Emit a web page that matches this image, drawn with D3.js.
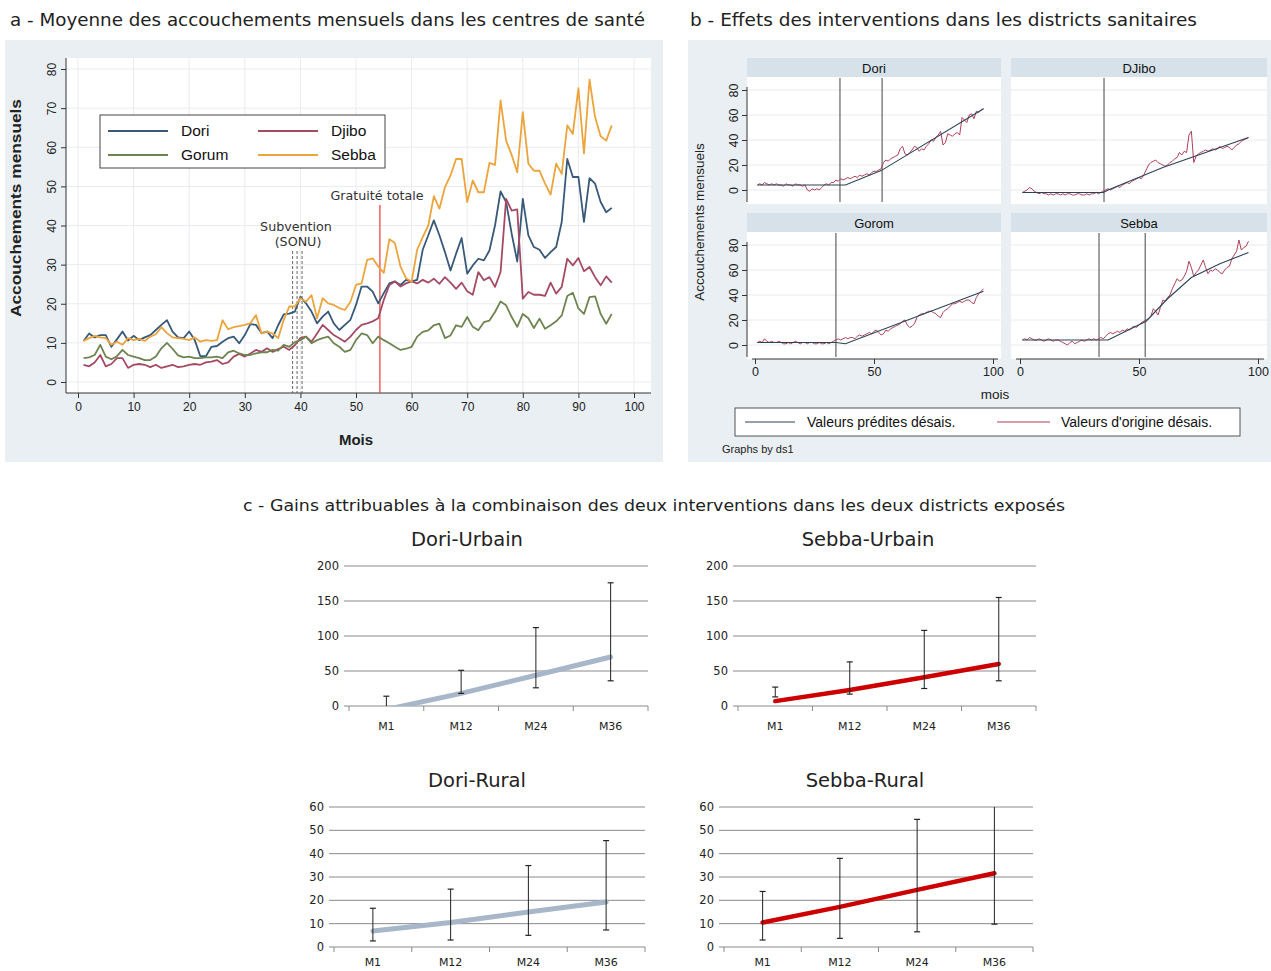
<!DOCTYPE html>
<html>
<head>
<meta charset="utf-8">
<script src="https://cdn.jsdelivr.net/npm/d3@7"></script>
<style>
  body { margin: 0; background: #fff; }
  svg { display: block; }
</style>
</head>
<body>
<div id="chart"></div>
<script>
// ---------- Panel a : mean monthly deliveries (months 1..96) ----------
const doriA = [
  10.5, 12.4, 11.4, 12, 12, 9, 10.9, 12.9, 10.6, 11.8,
  10.7, 11.4, 12, 13.3, 14.6, 15.8, 12.9, 11.4, 11.2, 12.9,
  10.7, 6.6, 6.6, 9, 9.2, 10.3, 11.2, 11.6, 9.9, 12,
  14.8, 14.6, 12.5, 12.9, 11.2, 14.5, 17.3, 17.5, 18, 21.8,
  20.1, 18, 15, 16.7, 18, 15, 13.3, 14.6, 15.9, 19.7,
  24.4, 24.4, 23.1, 20.1, 22.7, 25.2, 25.7, 24.8, 26.1, 25.7,
  26.1, 33.8, 37.5, 41.3, 37.5, 33.2, 28.5, 32.8, 36.8, 27.7,
  29.8, 31.5, 31.1, 33.6, 40, 48.7, 46, 37.9, 30.8, 46.8,
  37.5, 34.5, 33.8, 31.7, 33.2, 34.5, 40.9, 57, 52.4, 52.4,
  40.9, 52.1, 50.7, 46, 43.4, 44.5
];
const djiboA = [
  4.4, 4, 5, 6.9, 4, 4.6, 6.1, 6.1, 3.6, 4.4,
  4.6, 4.4, 3.8, 4.4, 3.6, 4, 4.4, 3.8, 4, 4.4,
  4.6, 4.4, 5, 5.2, 5.6, 4.6, 5, 6.5, 7.2, 6.5,
  7.3, 8.2, 7.7, 8.6, 7.7, 8.4, 9, 8.2, 9.4, 11.2,
  11.6, 10.3, 12.4, 14.6, 13.3, 12, 11.2, 10.3, 11.6, 13.3,
  14.6, 15, 15.5, 16.3, 21, 24.8, 25.7, 24.4, 25.2, 25.7,
  25.2, 26.1, 25.4, 26.4, 25.1, 26.8, 25.4, 23.8, 25.4, 23.2,
  22.3, 28.1, 26, 26.8, 24.3, 28.1, 46.8, 43.8, 44.1, 21.3,
  23, 22.3, 22.3, 22, 25.4, 22.6, 24.3, 31.5, 29.8, 31.7,
  28.3, 29.4, 26.8, 24.7, 27, 25.4
];
const gorumA = [
  6.1, 6.3, 6.9, 9.5, 6.5, 5.8, 6.6, 8.2, 6.9, 6.5,
  6.1, 5.6, 5.6, 6.5, 8.6, 10, 8.5, 6.8, 6.3, 6.5,
  6.1, 6.1, 6.3, 6.3, 6.5, 6.1, 7.6, 8, 7.3, 6.9,
  6.9, 7.3, 7.6, 7.6, 8.2, 8, 9.5, 9, 10.2, 10.7,
  11.6, 9.9, 10.7, 11.2, 11.6, 9.9, 9, 7.7, 8.2, 10.7,
  12.4, 12, 9.9, 11.6, 10.7, 9.9, 9, 8.2, 8.5, 9,
  11.6, 12.8, 13.2, 14.5, 14.9, 11.2, 11.9, 14.5, 14.1, 16.6,
  14.1, 13.2, 15.3, 15.7, 17.9, 20.6, 19.6, 16.6, 14.1, 17.4,
  16.3, 13.8, 16.2, 13.6, 14.5, 15.5, 17, 22, 22.8, 18.8,
  17.4, 21.7, 21.9, 17.4, 14.9, 17.4
];
const sebbaA = [
  10.5, 11.2, 11.8, 11.4, 11.2, 9.5, 10.3, 9.5, 11.2, 10.7,
  11, 10.5, 11.6, 12.2, 14, 12.5, 11.4, 11.2, 11, 10.7,
  11.4, 10.3, 10.7, 10.5, 10.7, 15.8, 13.5, 14, 14.3, 14.6,
  15, 17.1, 12.4, 12.9, 12.4, 11.2, 15.9, 19.3, 19.3, 21.4,
  20.5, 22.2, 16.3, 21.4, 20.1, 19.7, 18.9, 18.4, 20.5, 24.8,
  25.2, 31.2, 31.6, 29.5, 27.9, 36.5, 35.5, 29.5, 26.5, 25.6,
  33.8, 37, 40, 47.5, 44.3, 49.8, 52.8, 57, 57, 46,
  51.5, 48.5, 48.5, 56, 55.5, 72, 61.7, 58, 53.6, 69,
  55.8, 54, 54, 50.7, 47.9, 55.8, 53.2, 65.6, 63.4, 75.1,
  58.4, 77.3, 67.7, 62.8, 61.7, 65.6
];
const seriesA = [
  { name: "Dori", values: doriA, color: "#38597a" },
  { name: "Djibo", values: djiboA, color: "#a54a63" },
  { name: "Gorum", values: gorumA, color: "#6e8450" },
  { name: "Sebba", values: sebbaA, color: "#eca43c" }
];
const monthTicks = [0, 10, 20, 30, 40, 50, 60, 70, 80, 90, 100];
const countTicks = [0, 10, 20, 30, 40, 50, 60, 70, 80];
const sonuMonths = [38.6, 39.4, 40.3];
const gratuiteMonth = 54.3;

// ---------- Panel b : deseasonalised original vs predicted ----------
const bDori = [
  4, 5, 4, 6, 5, 4, 5, 4, 5, 4,
  4, 3, 5, 4, 4, 3, 5, 4, 4, 3,
  4, 0, -1, 1, 0, 1, 0, 2, 4, 5,
  4, 6, 6, 8, 7, 9, 8, 9, 10, 9,
  10, 11, 10, 12, 11, 12, 13, 12, 14, 15,
  15, 16, 17, 22, 24, 23, 25, 26, 27, 28,
  33, 35, 29, 28, 30, 32, 35, 34, 31, 33,
  32, 35, 37, 40, 39, 42, 44, 47, 36, 38,
  45, 44, 43, 45, 46, 44, 58, 56, 54, 60,
  61, 57, 63, 62, 64, 65
];
const bDjibo = [
  -2, -1, 0, 2, 1, -1, -2, -3, -2, -3,
  -3, -4, -3, -4, -3, -3, -4, -3, -4, -3,
  -3, -4, -4, -3, -3, -4, -4, -3, -4, -3,
  -3, -2, -3, -2, -1, 0, 1, 0, 1, 2,
  3, 2, 4, 5, 6, 5, 7, 8, 9, 10,
  9, 12, 16, 20, 22, 23, 24, 22, 21, 20,
  19, 20, 22, 23, 25, 26, 30, 28, 31, 30,
  44, 47, 22, 27, 29, 30, 31, 32, 31, 32,
  33, 32, 33, 35, 33, 34, 35, 34, 32, 34,
  36, 37, 39, 40, 41, 42
];
const bGorom = [
  2, 3, 2, 5, 3, 2, 3, 2, 2, 3,
  2, 1, 1, 2, 1, 2, 3, 2, 1, 2,
  2, 1, 2, 2, 1, 1, 2, 1, 1, 2,
  1, 2, 3, 4, 5, 4, 5, 6, 5, 6,
  6, 5, 7, 8, 7, 8, 9, 10, 9, 11,
  12, 10, 8, 9, 12, 11, 13, 14, 15, 16,
  17, 19, 20, 16, 14, 15, 17, 22, 24, 25,
  25, 26, 27, 27, 26, 25, 23, 22, 26, 28,
  29, 31, 33, 33, 34, 35, 34, 35, 36, 36,
  34, 33, 38, 41, 43, 45
];
const bSebba = [
  4, 5, 4, 6, 5, 4, 4, 5, 4, 3,
  4, 5, 4, 3, 4, 4, 3, 2, 1, 0,
  2, 3, 1, 2, 3, 4, 3, 4, 5, 4,
  5, 4, 5, 6, 5, 7, 9, 10, 9, 10,
  11, 10, 12, 11, 13, 12, 14, 15, 14, 16,
  18, 19, 20, 21, 23, 29, 27, 24, 30, 36,
  35, 38, 40, 45, 49, 53, 51, 52, 55, 59,
  67, 62, 55, 58, 60, 64, 68, 62, 57, 60,
  59, 61, 60, 58, 57, 60, 62, 63, 69, 72,
  75, 84, 76, 78, 79, 83
];
// predicted (piecewise) : [month, value]
const bDoriPred = [[1, 4], [38, 4], [53, 15.5], [96, 65]];
const bDjiboPred = [[1, -2], [35, -2], [37, 0], [60, 18], [96, 42]];
const bGoromPred = [[1, 2], [34, 2], [38, 1], [96, 43]];
const bSebbaPred = [[1, 4], [37, 4], [53, 19], [62, 37], [72, 54], [84, 65], [96, 74]];
const bYTicks = [0, 20, 40, 60, 80];
const bXTicks = [0, 50, 100];

// ---------- Panel c : gains ----------
const cats = ["M1", "M12", "M24", "M36"];
const urbainTicks = [0, 50, 100, 150, 200];
const ruralTicks = [0, 10, 20, 30, 40, 50, 60];
const doriUrbain = [-5, 18, 44, 70];
const doriUrbainLo = [-20, 18, 26, 36];
const doriUrbainHi = [14, 51, 112, 176];
const sebbaUrbain = [7, 23, 41, 60];
const sebbaUrbainLo = [13, 17, 25, 36];
const sebbaUrbainHi = [27, 63, 108, 155];
const doriRural = [6.9, 10.5, 15, 19.3];
const doriRuralLo = [2.6, 3, 5, 7.3];
const doriRuralHi = [16.6, 24.8, 34.9, 45.6];
const sebbaRural = [10.5, 17.2, 24.5, 31.6];
const sebbaRuralLo = [3, 3.7, 6.5, 9.8];
const sebbaRuralHi = [23.8, 38, 54.7, 63];

const svg = d3.select("#chart").append("svg")
  .attr("width", 1271)
  .attr("height", 971);

const verdana = "DejaVu Sans, Verdana, sans-serif";
const arial = "Liberation Sans, Arial, sans-serif";

// ================= Panel a =================
svg.append("text").attr("x", 10).attr("y", 26)
  .attr("font-family", verdana).attr("font-size", 17.5).attr("fill", "#222")
  .attr("textLength", 635).attr("lengthAdjust", "spacingAndGlyphs")
  .text("a - Moyenne des accouchements mensuels dans les centres de santé");

svg.append("rect").attr("x", 5).attr("y", 40).attr("width", 658).attr("height", 422).attr("fill", "#e9eff3");

const pa = { left: 66, right: 651, top: 58, bottom: 393 };
svg.append("rect").attr("x", pa.left).attr("y", pa.top)
  .attr("width", pa.right - pa.left).attr("height", pa.bottom - pa.top).attr("fill", "#fff");

const xa = d3.scaleLinear().domain([0, 100]).range([78, 634]);
const ya = d3.scaleLinear().domain([0, 80]).range([382, 69]);

const gridA = svg.append("g").attr("stroke", "#e9ecef").attr("stroke-width", 1);
gridA.selectAll(".v").data(monthTicks).join("line")
  .attr("x1", d => xa(d)).attr("x2", d => xa(d)).attr("y1", pa.top).attr("y2", pa.bottom);
gridA.selectAll(".h").data(countTicks).join("line")
  .attr("x1", pa.left).attr("x2", pa.right).attr("y1", d => ya(d)).attr("y2", d => ya(d));

// axes
const axA = svg.append("g").attr("transform", `translate(0,${pa.bottom})`)
  .call(d3.axisBottom(xa).tickValues(monthTicks).tickSize(5).tickPadding(4));
axA.select(".domain").remove();
axA.selectAll("line").attr("stroke", "#333");
axA.selectAll("text").attr("font-family", arial).attr("font-size", 12).attr("fill", "#222");
svg.append("line").attr("x1", pa.left).attr("x2", pa.right).attr("y1", pa.bottom).attr("y2", pa.bottom).attr("stroke", "#333");

const ayA = svg.append("g").attr("transform", `translate(${pa.left},0)`)
  .call(d3.axisLeft(ya).tickValues(countTicks).tickSize(5));
ayA.select(".domain").remove();
ayA.selectAll("line").attr("stroke", "#333");
ayA.selectAll("text").attr("font-family", arial).attr("font-size", 12).attr("fill", "#222")
  .attr("transform", "rotate(-90)").attr("x", 0).attr("y", -10).attr("dy", 0).attr("text-anchor", "middle");
svg.append("line").attr("x1", pa.left).attr("x2", pa.left).attr("y1", pa.top).attr("y2", pa.bottom).attr("stroke", "#333");

svg.append("text").attr("transform", "translate(21,208) rotate(-90)").attr("text-anchor", "middle")
  .attr("font-family", arial).attr("font-size", 15).attr("font-weight", 600).attr("fill", "#222")
  .attr("textLength", 218).attr("lengthAdjust", "spacingAndGlyphs")
  .text("Accouchements mensuels");
svg.append("text").attr("x", 356).attr("y", 445).attr("text-anchor", "middle")
  .attr("font-family", arial).attr("font-size", 15).attr("font-weight", 600).attr("fill", "#222").text("Mois");

// intervention markers
svg.append("g").selectAll("line").data(sonuMonths).join("line")
  .attr("x1", d => xa(d)).attr("x2", d => xa(d)).attr("y1", 251).attr("y2", pa.bottom)
  .attr("stroke", "#555").attr("stroke-width", 0.9).attr("stroke-dasharray", "3,2");
svg.append("line").attr("x1", xa(gratuiteMonth)).attr("x2", xa(gratuiteMonth))
  .attr("y1", 205).attr("y2", pa.bottom).attr("stroke", "#f0484a").attr("stroke-width", 1.3);

svg.append("text").attr("x", 296).attr("y", 231).attr("text-anchor", "middle")
  .attr("font-family", verdana).attr("font-size", 12.7).attr("fill", "#333").text("Subvention");
svg.append("text").attr("x", 298).attr("y", 246).attr("text-anchor", "middle")
  .attr("font-family", verdana).attr("font-size", 12.7).attr("fill", "#333").text("(SONU)");
svg.append("text").attr("x", 377).attr("y", 200).attr("text-anchor", "middle")
  .attr("font-family", verdana).attr("font-size", 12.7).attr("fill", "#333").text("Gratuité totale");

const lineA = d3.line().x((d, i) => xa(i + 1)).y(d => ya(d));
svg.append("g").selectAll("path").data(seriesA).join("path")
  .attr("d", d => lineA(d.values)).attr("fill", "none")
  .attr("stroke", d => d.color).attr("stroke-width", 1.8).attr("stroke-linejoin", "round");

// legend
const legA = svg.append("g");
legA.append("rect").attr("x", 100).attr("y", 115).attr("width", 285).attr("height", 53)
  .attr("fill", "#fff").attr("stroke", "#444").attr("stroke-width", 1);
const legPos = [[108, 131], [258, 131], [108, 155], [258, 155]];
const legOrder = ["Dori", "Djibo", "Gorum", "Sebba"];
legOrder.forEach((n, i) => {
  const s = seriesA.find(d => d.name === n);
  const [lx, ly] = legPos[i];
  legA.append("line").attr("x1", lx).attr("x2", lx + 60).attr("y1", ly).attr("y2", ly)
    .attr("stroke", s.color).attr("stroke-width", 1.8);
  legA.append("text").attr("x", lx + 73).attr("y", ly + 5)
    .attr("font-family", arial).attr("font-size", 15.5).attr("fill", "#111").text(n);
});

// ================= Panel b =================
svg.append("text").attr("x", 690).attr("y", 26)
  .attr("font-family", verdana).attr("font-size", 17).attr("fill", "#222")
  .attr("textLength", 507).attr("lengthAdjust", "spacingAndGlyphs")
  .text("b -  Effets des interventions dans les districts sanitaires");
svg.append("rect").attr("x", 688).attr("y", 40).attr("width", 583).attr("height", 422).attr("fill", "#e9eff3");

const xbL = d3.scaleLinear().domain([0, 100]).range([755, 993]);
const xbR = d3.scaleLinear().domain([0, 100]).range([1020, 1258]);
const ybT = d3.scaleLinear().domain([0, 80]).range([190, 90]);
const ybB = d3.scaleLinear().domain([0, 80]).range([345, 245]);

const facets = [
  { name: "Dori", orig: bDori, pred: bDoriPred, cuts: [35.7, 53.4], x: xbL, y: ybT, col: 0, row: 0 },
  { name: "DJibo", orig: bDjibo, pred: bDjiboPred, cuts: [35.3], x: xbR, y: ybT, col: 1, row: 0 },
  { name: "Gorom", orig: bGorom, pred: bGoromPred, cuts: [34], x: xbL, y: ybB, col: 0, row: 1 },
  { name: "Sebba", orig: bSebba, pred: bSebbaPred, cuts: [33.2, 52.6], x: xbR, y: ybB, col: 1, row: 1 }
];
const colX = [[747, 1001], [1011, 1267]];
const rowY = [[58, 77, 204], [213, 232, 359]];

facets.forEach(f => {
  const [x0, x1] = colX[f.col];
  const [h0, p0, p1] = rowY[f.row];
  const g = svg.append("g");
  g.append("rect").attr("x", x0).attr("y", h0).attr("width", x1 - x0).attr("height", p0 - h0).attr("fill", "#d6e1e9");
  g.append("text").attr("x", (x0 + x1) / 2).attr("y", h0 + 14.5).attr("text-anchor", "middle")
    .attr("font-family", arial).attr("font-size", 13).attr("fill", "#111").text(f.name);
  g.append("rect").attr("x", x0).attr("y", p0).attr("width", x1 - x0).attr("height", p1 - p0).attr("fill", "#fff");
  g.selectAll(".grid").data(bYTicks).join("line")
    .attr("x1", x0).attr("x2", x1).attr("y1", d => f.y(d)).attr("y2", d => f.y(d))
    .attr("stroke", "#e6eaee").attr("stroke-width", 1);
  g.selectAll(".cut").data(f.cuts).join("line")
    .attr("x1", d => f.x(d)).attr("x2", d => f.x(d)).attr("y1", p0 + 1).attr("y2", p1 - 2)
    .attr("stroke", "#555").attr("stroke-width", 1.1);
  const lo = d3.line().x((d, i) => f.x(i + 1)).y(d => f.y(d));
  g.append("path").attr("d", lo(f.orig)).attr("fill", "none")
    .attr("stroke", "#b04058").attr("stroke-width", 1).attr("stroke-linejoin", "round");
  const lp = d3.line().x(d => f.x(d[0])).y(d => f.y(d[1]));
  g.append("path").attr("d", lp(f.pred)).attr("fill", "none")
    .attr("stroke", "#2c4257").attr("stroke-width", 1.1);

  if (f.col === 0) {
    const ay = g.append("g").attr("transform", `translate(${x0},0)`)
      .call(d3.axisLeft(f.y).tickValues(bYTicks).tickSize(5));
    ay.select(".domain").attr("d", `M0,${p0 + 10}V${p1 - 2}`).attr("stroke", "#333");
    ay.selectAll("line").attr("stroke", "#333");
    ay.selectAll("text").attr("font-family", arial).attr("font-size", 12.5).attr("fill", "#222")
      .attr("transform", "rotate(-90)").attr("x", 0).attr("y", -9).attr("dy", 0).attr("text-anchor", "middle");
  }
  if (f.row === 1) {
    const ax = g.append("g").attr("transform", `translate(0,${p1})`)
      .call(d3.axisBottom(f.x).tickValues(bXTicks).tickSize(5).tickPadding(3));
    ax.select(".domain").attr("d", `M${x0 + 5},0H${x1 - 3}`).attr("stroke", "#333");
    ax.selectAll("line").attr("stroke", "#333");
    ax.selectAll("text").attr("font-family", arial).attr("font-size", 12.5).attr("fill", "#222");
  }
});

svg.append("text").attr("transform", "translate(704,222) rotate(-90)").attr("text-anchor", "middle")
  .attr("font-family", arial).attr("font-size", 13.5).attr("fill", "#222").text("Accouchements mensuels");
svg.append("text").attr("x", 995).attr("y", 399).attr("text-anchor", "middle")
  .attr("font-family", arial).attr("font-size", 13.5).attr("fill", "#222").text("mois");

const legB = svg.append("g");
legB.append("rect").attr("x", 735).attr("y", 408).attr("width", 505).attr("height", 28)
  .attr("fill", "#fff").attr("stroke", "#555").attr("stroke-width", 1);
legB.append("line").attr("x1", 745).attr("x2", 795).attr("y1", 422).attr("y2", 422).attr("stroke", "#2c4257").attr("stroke-width", 1.2);
legB.append("text").attr("x", 807).attr("y", 427).attr("font-family", arial).attr("font-size", 14).attr("fill", "#111")
  .text("Valeurs prédites désais.");
legB.append("line").attr("x1", 997).attr("x2", 1050).attr("y1", 422).attr("y2", 422).attr("stroke", "#b04058").attr("stroke-width", 1.2);
legB.append("text").attr("x", 1061).attr("y", 427).attr("font-family", arial).attr("font-size", 14).attr("fill", "#111")
  .text("Valeurs d'origine désais.");
svg.append("text").attr("x", 722).attr("y", 453).attr("font-family", arial).attr("font-size", 11).attr("fill", "#222")
  .text("Graphs by ds1");

// ================= Panel c =================
svg.append("text").attr("x", 243).attr("y", 511)
  .attr("font-family", verdana).attr("font-size", 16).attr("fill", "#222")
  .attr("textLength", 822).attr("lengthAdjust", "spacingAndGlyphs")
  .text("c - Gains attribuables à la combinaison des deux interventions dans les deux districts exposés");

function excelChart(o, idx) {
  const x = d3.scaleBand().domain(cats).range([o.left, o.right]);
  const y = d3.scaleLinear().domain([0, o.ticks[o.ticks.length - 1]]).range([o.bottom, o.top]);
  const g = svg.append("g");
  g.append("text").attr("x", o.tx).attr("y", o.top - 20).attr("text-anchor", "middle")
    .attr("font-family", verdana).attr("font-size", 19.5).attr("fill", "#222").text(o.title);
  g.selectAll(".gl").data(o.ticks).join("line")
    .attr("x1", o.left - 5).attr("x2", o.right).attr("y1", d => y(d)).attr("y2", d => y(d))
    .attr("stroke", "#8a8a8a").attr("stroke-width", 1);
  g.selectAll(".yl").data(o.ticks).join("text")
    .attr("x", o.left - 10).attr("y", d => y(d) + 4).attr("text-anchor", "end")
    .attr("font-family", verdana).attr("font-size", 11.5).attr("fill", "#222").text(d => d);
  const bounds = cats.map(c => x(c)).concat([o.right]);
  g.selectAll(".xt").data(bounds).join("line")
    .attr("x1", d => d).attr("x2", d => d).attr("y1", o.bottom).attr("y2", o.bottom + 5)
    .attr("stroke", "#8a8a8a");
  g.selectAll(".xl").data(cats).join("text")
    .attr("x", d => x(d) + x.bandwidth() / 2).attr("y", o.bottom + o.labelGap).attr("text-anchor", "middle")
    .attr("font-family", verdana).attr("font-size", 11).attr("fill", "#222").text(d => d);

  const clipId = "clipc" + idx;
  svg.append("clipPath").attr("id", clipId).append("rect")
    .attr("x", o.left).attr("y", o.top).attr("width", o.right - o.left).attr("height", o.bottom - o.top);
  const inner = g.append("g").attr("clip-path", `url(#${clipId})`);
  const cx = c => x(c) + x.bandwidth() / 2;
  inner.append("path")
    .attr("d", d3.line().x((d, i) => cx(cats[i])).y(d => y(d))(o.vals))
    .attr("fill", "none").attr("stroke", o.color).attr("stroke-width", o.width).attr("stroke-linecap", "round");
  cats.forEach((c, i) => {
    inner.append("line").attr("x1", cx(c)).attr("x2", cx(c)).attr("y1", y(o.lo[i])).attr("y2", y(o.hi[i]))
      .attr("stroke", "#222").attr("stroke-width", 1);
    [o.lo[i], o.hi[i]].forEach(v => {
      inner.append("line").attr("x1", cx(c) - 3).attr("x2", cx(c) + 3).attr("y1", y(v)).attr("y2", y(v))
        .attr("stroke", "#222").attr("stroke-width", 1.2);
    });
  });
}

excelChart({ title: "Dori-Urbain", tx: 467, left: 349, right: 648, top: 566, bottom: 706, ticks: urbainTicks, labelGap: 24,
  vals: doriUrbain, lo: doriUrbainLo, hi: doriUrbainHi, color: "#a7b6c9", width: 5 }, 0);
excelChart({ title: "Sebba-Urbain", tx: 868, left: 738, right: 1036, top: 566, bottom: 706, ticks: urbainTicks, labelGap: 24,
  vals: sebbaUrbain, lo: sebbaUrbainLo, hi: sebbaUrbainHi, color: "#cc0000", width: 4.5 }, 1);
excelChart({ title: "Dori-Rural", tx: 477, left: 334, right: 645, top: 807, bottom: 947, ticks: ruralTicks, labelGap: 19,
  vals: doriRural, lo: doriRuralLo, hi: doriRuralHi, color: "#a7b6c9", width: 5 }, 2);
excelChart({ title: "Sebba-Rural", tx: 865, left: 724, right: 1033, top: 807, bottom: 947, ticks: ruralTicks, labelGap: 19,
  vals: sebbaRural, lo: sebbaRuralLo, hi: sebbaRuralHi, color: "#cc0000", width: 4.5 }, 3);
</script>
</body>
</html>
